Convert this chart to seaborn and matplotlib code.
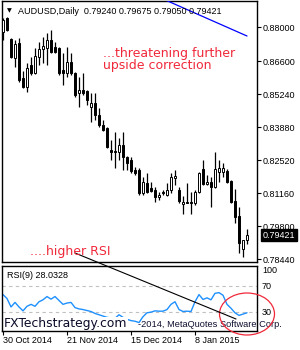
import matplotlib
matplotlib.use("Agg")
import matplotlib.pyplot as plt
import matplotlib.transforms as mtransforms
from matplotlib.patches import Ellipse
from matplotlib.lines import Line2D
import seaborn as sns
import numpy as np
import pandas as pd

# ---------------- data ----------------
symbol = "AUDUSD,Daily"
opens = [0.87795, 0.88372, 0.87507, 0.86724, 0.87342, 0.85899, 0.85529, 0.86435, 0.86105, 0.86765,
         0.87095, 0.87136, 0.87465, 0.87177, 0.87136, 0.86229, 0.86105, 0.86559, 0.86105, 0.85281,
         0.85405, 0.85364, 0.84704, 0.84869, 0.84375, 0.83962, 0.83839, 0.82932, 0.82891, 0.82850,
         0.83138, 0.82644, 0.82520, 0.82108, 0.82108, 0.81160, 0.81572, 0.81366, 0.81284, 0.80995,
         0.81201, 0.81078, 0.81284, 0.81778, 0.81284, 0.80707, 0.80789, 0.80789, 0.80748, 0.81201,
         0.82149, 0.81531, 0.81613, 0.81407, 0.82025, 0.82025, 0.82067, 0.81655, 0.80830, 0.80212,
         0.78852, 0.79240]
highs = [0.88372, 0.88413, 0.87548, 0.87465, 0.87548, 0.86188, 0.86518, 0.86765, 0.87136, 0.87383,
         0.87589, 0.87754, 0.87878, 0.87383, 0.87177, 0.86930, 0.87177, 0.86930, 0.86150, 0.85941,
         0.86105, 0.85405, 0.85281, 0.85281, 0.84663, 0.84168, 0.83880, 0.83344, 0.83674, 0.83427,
         0.83674, 0.82680, 0.82644, 0.82232, 0.82190, 0.81819, 0.81984, 0.81613, 0.81407, 0.81201,
         0.81284, 0.81572, 0.81984, 0.82108, 0.81407, 0.81036, 0.81572, 0.81201, 0.81284, 0.82025,
         0.82520, 0.81902, 0.81819, 0.82850, 0.82520, 0.82396, 0.82149, 0.81696, 0.81325, 0.80583,
         0.79223, 0.79675]
lows = [0.87465, 0.87836, 0.86740, 0.86353, 0.85735, 0.85487, 0.85322, 0.86023, 0.86064, 0.86435,
        0.86518, 0.86435, 0.86930, 0.86930, 0.86023, 0.85611, 0.85941, 0.86023, 0.85116, 0.84704,
        0.85199, 0.84787, 0.84086, 0.84168, 0.83880, 0.83700, 0.83015, 0.82520, 0.82190, 0.82520,
        0.82108, 0.82108, 0.81984, 0.81902, 0.81078, 0.81078, 0.81160, 0.81201, 0.80789, 0.80872,
        0.81078, 0.81040, 0.81160, 0.81490, 0.80748, 0.80295, 0.80740, 0.80295, 0.80665, 0.81160,
        0.81490, 0.81490, 0.80583, 0.81380, 0.81613, 0.81819, 0.81572, 0.80748, 0.79924, 0.78687,
        0.78522, 0.79050]
closes = [0.88290, 0.87878, 0.86765, 0.87301, 0.85817, 0.85529, 0.86312, 0.86105, 0.86806, 0.87095,
          0.87218, 0.87465, 0.86971, 0.86971, 0.86105, 0.86105, 0.86559, 0.86105, 0.85199, 0.85405,
          0.85281, 0.84993, 0.84869, 0.84375, 0.83962, 0.83756, 0.83056, 0.82850, 0.82850, 0.83138,
          0.82644, 0.82396, 0.82067, 0.81984, 0.81160, 0.81613, 0.81201, 0.81242, 0.80995, 0.81078,
          0.81160, 0.81284, 0.81819, 0.81861, 0.80830, 0.80789, 0.80748, 0.80748, 0.81201, 0.81984,
          0.81531, 0.81613, 0.81407, 0.82149, 0.82190, 0.82190, 0.81613, 0.80789, 0.80171, 0.79099,
          0.79223, 0.79421]
rsi = [56, 50, 37, 44, 37, 31, 38, 41, 38, 45,
       48, 53, 49, 53, 47, 41, 43, 44, 36, 34,
       33, 31.5, 30, 27, 25, 23, 21, 20, 19.5, 25,
       21, 18, 16, 15, 13, 22, 28, 29, 31, 30.5,
       30.5, 33, 41, 45, 33, 30, 30.5, 30, 45, 56,
       48.5, 51, 48, 58, 59, 55, 41, 35, 28, 24,
       26, 28.0328]
price_ticks = [0.88000, 0.86600, 0.85240, 0.83880, 0.82520, 0.81160, 0.79800, 0.78440]
rsi_levels = [30, 70]
rsi_ticks = [30, 70, 100]
date_pos = [0, 16, 32, 48]
date_labels = ["30 Oct 2014", "21 Nov 2014", "15 Dec 2014", "8 Jan 2015"]
blue_trend_idx = [39, 61]
blue_trend_price = [0.8923, 0.8763]

df = pd.DataFrame({"open": opens, "high": highs, "low": lows, "close": closes, "rsi": rsi})
df["idx"] = np.arange(len(df))

# ---------------- layout helpers ----------------
W, H = 300, 350
def fx(x):
    return x / W
def fy(y):
    return 1 - y / H

RED = "#f0283a"
sns.set_theme(style="ticks")
plt.rcParams['font.family'] = ['Liberation Sans', 'DejaVu Sans']

fig = plt.figure(figsize=(3, 3.5), dpi=100)
fig.patch.set_facecolor("white")
ax = fig.add_axes([fx(2), fy(262), fx(257) - fx(2), fy(1) - fy(262)])
ax2 = fig.add_axes([fx(2), fy(331), fx(257) - fx(2), fy(266) - fy(331)])

# ---------------- candles ----------------
up = df["close"] >= df["open"]
ax.vlines(df["idx"], df["low"], df["high"], color="black", lw=0.9, zorder=2)
body_bottom = np.minimum(df["open"], df["close"])
body_h = np.maximum(np.abs(df["close"] - df["open"]), 0.00006)
ax.bar(df["idx"], body_h, bottom=body_bottom, width=0.6,
       color=np.where(up, "white", "black"), edgecolor="black", linewidth=0.7, zorder=3)
ax.plot(blue_trend_idx, blue_trend_price, color="#0000ff", lw=0.9, zorder=4)

ax.set_xlim(-0.25, 63.5)
ax.set_ylim(0.78317, 0.89073)
ax.yaxis.tick_right()
ax.set_yticks(price_ticks)
ax.set_yticklabels([f"{v:.5f}" for v in price_ticks])
ax.tick_params(axis="y", direction="out", length=2.8, width=0.8, pad=1.5,
               labelsize=6.5, colors="black")
ax.set_xticks([])
for s in ax.spines.values():
    s.set_color("black")
    s.set_linewidth(1.0)

# current price tag
blend = mtransforms.blended_transform_factory(ax.transAxes, ax.transData)
ax.text(1.022, closes[-1], f"{closes[-1]:.5f}", transform=blend, ha="left", va="center",
        fontsize=6.5, color="white",
        bbox=dict(boxstyle="square,pad=0.18", fc="black", ec="black"), zorder=6)

# ---------------- RSI ----------------
sns.lineplot(data=df, x="idx", y="rsi", ax=ax2, color="#1e90ff", lw=1.0, zorder=2)
for lv in rsi_levels:
    ax2.axhline(lv, color="#c0c0c0", lw=0.8, ls=(0, (3, 3)), zorder=1)
ax2.set_xlim(-0.25, 63.5)
ax2.set_ylim(0, 100)
ax2.set_xlabel("")
ax2.set_ylabel("")
ax2.yaxis.tick_right()
ax2.set_yticks(rsi_ticks)
ax2.set_yticklabels([str(t) for t in rsi_ticks])
ax2.tick_params(axis="y", length=0, pad=3.6, labelsize=6.5, colors="black")
ax2.get_yticklabels()[-1].set_verticalalignment("top")
ax2.set_xticks(date_pos)
ax2.set_xticklabels(date_labels, ha="left")
ax2.tick_params(axis="x", direction="out", length=2.8, width=0.8, pad=0.8,
                labelsize=6.5, colors="black")
for s in ax2.spines.values():
    s.set_color("black")
    s.set_linewidth(1.0)

# ---------------- texts ----------------
fig.text(fx(7), fy(11), "\u25bc", fontsize=4.5, family="DejaVu Sans", va="center", color="black")
fig.text(fx(18), fy(11),
         f"{symbol}  {opens[-1]:.5f} {highs[-1]:.5f} {lows[-1]:.5f} {closes[-1]:.5f}",
         fontsize=6.5, va="center", color="black")
fig.text(fx(103), fy(56.5), "...threatening further", fontsize=9, family="DejaVu Sans",
         color=RED, va="baseline")
fig.text(fx(103), fy(68.5), "upside correction", fontsize=9, family="DejaVu Sans",
         color=RED, va="baseline")
fig.text(fx(30), fy(255), "....higher RSI", fontsize=9, family="DejaVu Sans",
         color=RED, va="baseline")
fig.text(fx(7), fy(278), f"RSI(9) {rsi[-1]:.4f}", fontsize=6.5, va="baseline", color="black")

ax2.text(fx(138), fy(327), "-2014, MetaQuotes Software Corp.", transform=fig.transFigure,
         fontsize=6.7, va="baseline", color="#101030", zorder=2.3)
ax2.text(fx(3.5), fy(327.5), "FXTechstrategy.com", transform=fig.transFigure,
         fontsize=8.9, family="DejaVu Sans", va="baseline", color="#0a0a28", zorder=2.2,
         bbox=dict(boxstyle="square,pad=0.08", fc="white", ec="none"))

# annotations spanning panels
fig.add_artist(Line2D([fx(75), fx(236)], [fy(253), fy(319)], transform=fig.transFigure,
                      color="black", lw=0.8))
fig.add_artist(Ellipse((fx(247), fy(314)), 55 / W, 42 / H, transform=fig.transFigure,
                       fill=False, ec=RED, lw=0.9))

fig.savefig("out.png", dpi=100)
